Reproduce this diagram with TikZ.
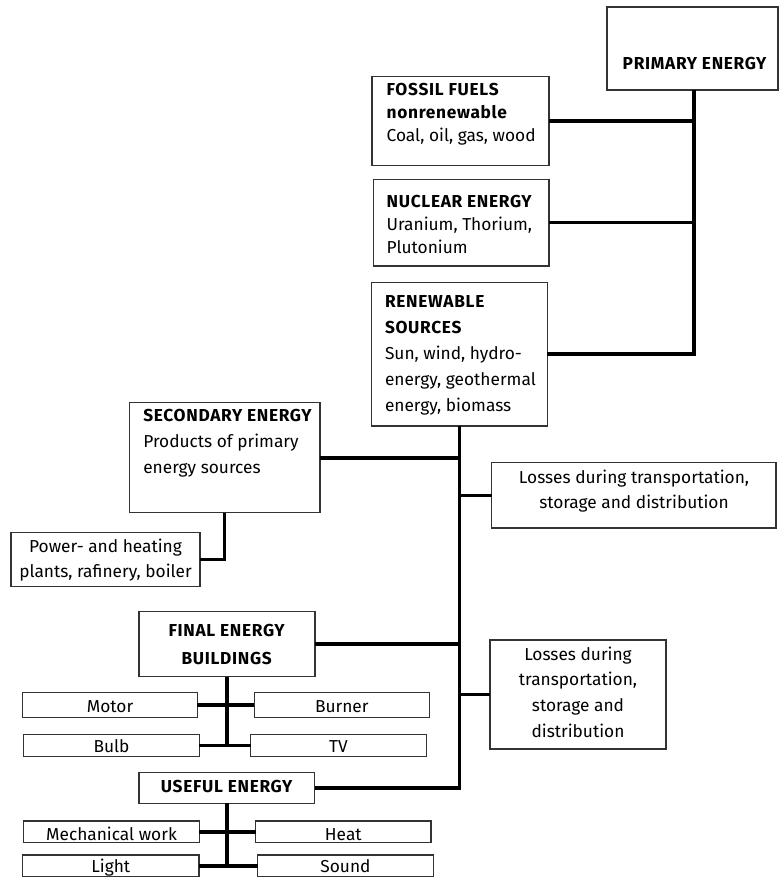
\documentclass[tikz,border=0pt]{standalone}
\usepackage{fontspec}
\setmainfont{Fira Sans}[BoldFeatures={LetterSpace=4}]
\begin{document}
\begin{tikzpicture}[x=1pt,y=-1pt,
  box/.style={draw=black!80,line width=1.1pt,fill=white,inner sep=0pt,outer sep=0pt},
  conn/.style={line width=3.6pt,black,line join=miter},
  txt/.style={inner sep=0pt,outer sep=0pt,align=left,font=\fontsize{17.3}{23}\selectfont},
  ctxt/.style={inner sep=0pt,outer sep=0pt,align=center,font=\fontsize{17.3}{25}\selectfont}]
\useasboundingbox (0,0) rectangle (779,879);
\newcommand{\boxnode}[5]{\node[box,minimum width={#4pt-#2pt},minimum height={#5pt-#3pt}] (#1) at ({(#2+#4)/2},{(#3+#5)/2}) {};}
% boxes
\boxnode{primary}{607}{7}{778}{90}
\boxnode{fossil}{372}{76.3}{549}{165.7}
\boxnode{nuclear}{373.3}{179.3}{549}{266}
\boxnode{renew}{371.7}{282.3}{547.3}{426}
\boxnode{second}{129.3}{402.7}{320}{512.7}
\boxnode{lossA}{491.7}{462.7}{776}{528}
\boxnode{power}{11}{532.3}{200}{586.7}
\boxnode{final}{139}{611.7}{315}{676.7}
\boxnode{lossB}{490}{640}{666}{749}
\boxnode{motor}{22.7}{692.7}{197.3}{717.3}
\boxnode{burner}{254.3}{692.7}{429.3}{717.3}
\boxnode{bulb}{23.7}{734.5}{199.3}{756.7}
\boxnode{tv}{250.7}{734.5}{426.3}{756.7}
\boxnode{useful}{139}{772.7}{314.7}{803.3}
\boxnode{mech}{23.7}{821}{199.3}{842.7}
\boxnode{heat}{255.7}{821}{431}{842.7}
\boxnode{light}{22.7}{855}{199}{876.7}
\boxnode{sound}{257.7}{855}{433.3}{876.7}
% texts (anchor = baseline of the last line)
\node[txt,anchor=base] (primary-t) at (695,69.3) {\textbf{PRIMARY ENERGY}};
\node[txt,anchor=base west] (fossil-t) at (386.7,141.5) {\textbf{FOSSIL FUELS}\\\textbf{nonrenewable}\\Coal, oil, gas, wood};
\node[txt,anchor=base west] (nuclear-t) at (386.7,253.3) {\textbf{NUCLEAR ENERGY}\\Uranium, Thorium,\\Plutonium};
\node[txt,anchor=base west,font=\fontsize{17.3}{26}\selectfont] (renew-t) at (385,411) {\textbf{RENEWABLE}\\\textbf{SOURCES}\\Sun, wind, hydro-\\energy, geothermal\\energy, biomass};
\node[txt,anchor=base west,font=\fontsize{17.3}{26}\selectfont] (second-t) at (143.3,473.7) {\textbf{SECONDARY ENERGY}\\Products of primary\\energy sources};
\node[ctxt,anchor=base] (lossA-t) at (634,508.3) {Losses during transportation,\\storage and distribution};
\node[ctxt,anchor=base] (power-t) at (105.5,577.7) {Power- and heating\\plants, rafinery, boiler};
\node[ctxt,anchor=base,font=\fontsize{17.3}{27.7}\selectfont] (final-t) at (227,664) {\textbf{FINAL ENERGY}\\\textbf{BUILDINGS}};
\node[ctxt,anchor=base,font=\fontsize{17.3}{25.7}\selectfont] (lossB-t) at (578,737.1) {Losses during\\transportation,\\storage and\\distribution};
\node[ctxt,anchor=base] (motor-t) at (110,712.3) {Motor};
\node[ctxt,anchor=base] (burner-t) at (341.8,712.3) {Burner};
\node[ctxt,anchor=base] (bulb-t) at (111.5,752.5) {Bulb};
\node[ctxt,anchor=base] (tv-t) at (338.5,752.5) {TV};
\node[ctxt,anchor=base] (useful-t) at (227,792.3) {\textbf{USEFUL ENERGY}};
\node[ctxt,anchor=base] (mech-t) at (111.5,840.7) {Mechanical work};
\node[ctxt,anchor=base] (heat-t) at (343.3,840.7) {Heat};
\node[ctxt,anchor=base] (light-t) at (110.8,872.3) {Light};
\node[ctxt,anchor=base] (sound-t) at (345.5,872.3) {Sound};
% connectors
\coordinate (pT) at (694,90);
\draw[conn] (pT) |- (renew.east);
\draw[conn] (fossil.east) -- (fossil.east -| pT);
\draw[conn] (nuclear.east) -- (nuclear.east -| pT);
\draw[conn] (renew.south) |- (useful.east);
\draw[conn] (second.east) -- (second.east -| renew.south);
\draw[conn] (lossA.west) -- (lossA.west -| renew.south);
\draw[conn] (final.east) -- (final.east -| renew.south);
\draw[conn] (lossB.west) -- (lossB.west -| renew.south);
\draw[conn] (second.south) |- (power.east);
\draw[conn] (final.south) -- (final.south |- bulb.east);
\draw[conn] (motor.east) -- (burner.west);
\draw[conn] (bulb.east) -- (tv.west);
\draw[conn] (useful.south) -- (useful.south |- light.east);
\draw[conn] (mech.east) -- (heat.west);
\draw[conn] (light.east) -- (sound.west);
\end{tikzpicture}
\end{document}
